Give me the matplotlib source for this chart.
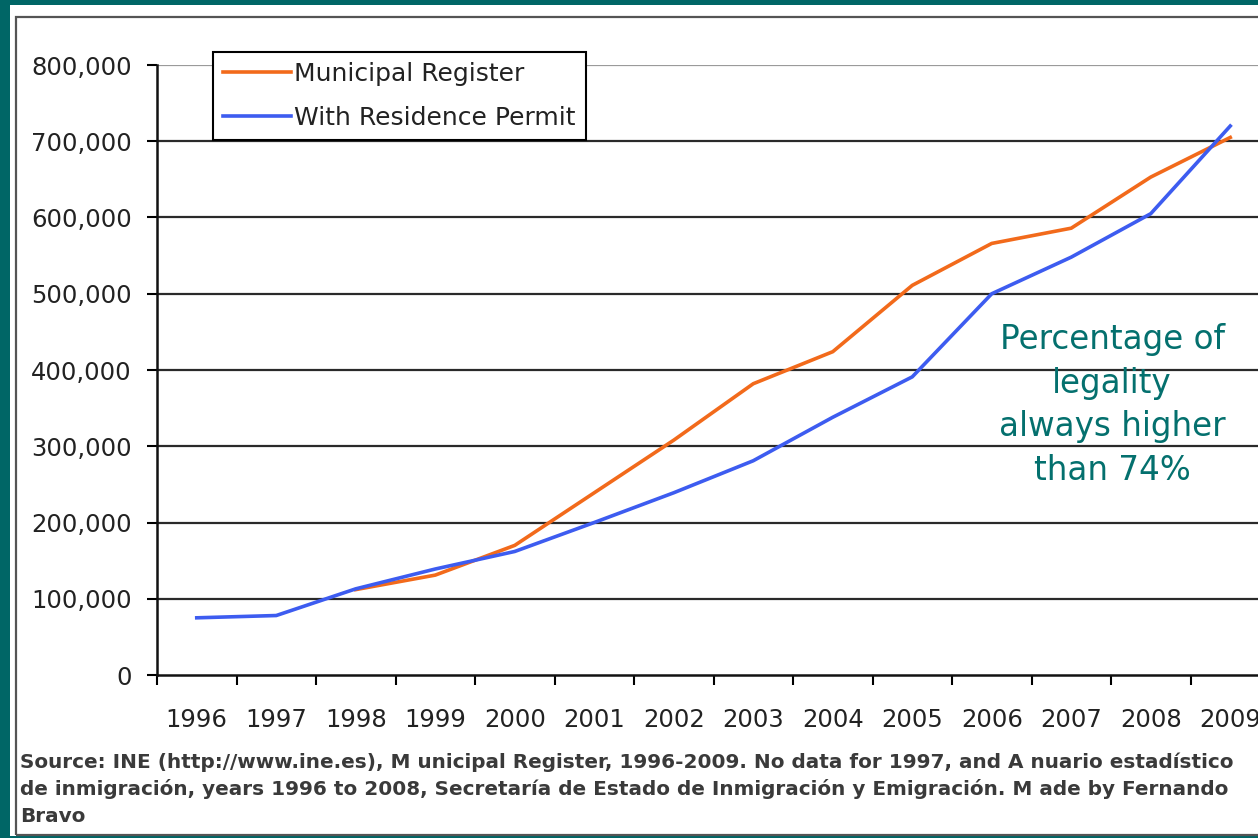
import numpy as np
import matplotlib
matplotlib.use('Agg')
from matplotlib import pyplot as plt
from matplotlib.patches import Rectangle
from matplotlib.ticker import FuncFormatter

# Data (no municipal data before 1998 shown).
years = ['1996', '1997', '1998', '1999', '2000', '2001', '2002',
         '2003', '2004', '2005', '2006', '2007', '2008', '2009']
municipal_register = [np.nan, np.nan, 112000, 131000, 170000, 239000, 308000,
                      382000, 424000, 511000, 566000, 586000, 653000, 705000]
residence_permit = [75000, 78000, 113000, 139000, 162000, 200000, 239000,
                    281000, 338000, 391000, 500000, 548000, 605000, 720000]
y_ticks = [0, 100000, 200000, 300000, 400000, 500000, 600000, 700000, 800000]

source_lines = [
    "Source: INE (http://www.ine.es), M unicipal Register, 1996-2009. No data for 1997, and A nuario estadístico",
    "de inmigración, years 1996 to 2008, Secretaría de Estado de Inmigración y Emigración. M ade by Fernando",
    "Bravo",
]
note = "Percentage of\nlegality\nalways higher\nthan 74%"

W, H = 1258, 838
TEAL = '#006666'
ORANGE = '#F26A1B'
BLUE = '#3D5CF0'


def fx(px):
    return px / W


def fy(py):
    return 1 - py / H


def main():
    fig = plt.figure(figsize=(W / 100, H / 100), dpi=100, facecolor=TEAL)

    # white slide panel with thin grey frame
    fig.add_artist(Rectangle((fx(10), fy(836)), 1.1, (836 - 5) / H,
                             transform=fig.transFigure, facecolor='white',
                             edgecolor='none', zorder=0))
    fig.add_artist(Rectangle((fx(16), fy(835)), 1.1, (835 - 17) / H,
                             transform=fig.transFigure, facecolor='none',
                             edgecolor='#555555', lw=1.6, zorder=1))

    ax = fig.add_axes([fx(157), fy(675), (1270 - 157) / W, (675 - 65) / H])
    ax.set_facecolor('none')

    x = np.arange(len(years))
    ax.plot(x, municipal_register, color=ORANGE, lw=2.6, label='Municipal Register', zorder=3)
    ax.plot(x, residence_permit, color=BLUE, lw=2.6, label='With Residence Permit', zorder=4)

    ax.set_xlim(-0.5, len(years) - 0.5)
    ax.set_ylim(y_ticks[0], y_ticks[-1])

    # horizontal gridlines
    for v in y_ticks[1:-1]:
        ax.axhline(v, color='#2a2a2a', lw=1.6, zorder=1)
    ax.axhline(y_ticks[-1], color='#9a9a9a', lw=1.6, zorder=1)

    ax.set_yticks(y_ticks)
    ax.yaxis.set_major_formatter(FuncFormatter(lambda v, p: f'{v:,.0f}'))
    ax.tick_params(axis='y', length=7, width=1.5, pad=11, labelsize=17.5,
                   labelcolor='#222222')

    ax.set_xticks(np.arange(-0.5, len(years), 1))
    ax.set_xticks(x, minor=True)
    ax.set_xticklabels(years, minor=True)
    ax.tick_params(axis='x', which='major', length=7, width=1.5, labelbottom=False)
    ax.tick_params(axis='x', which='minor', length=0, pad=24, labelsize=17.5,
                   labelcolor='#222222')

    for side in ['top', 'right']:
        ax.spines[side].set_visible(False)
    for side in ['left', 'bottom']:
        ax.spines[side].set_linewidth(1.8)
        ax.spines[side].set_color('#111111')

    leg = ax.legend(loc='upper left', bbox_to_anchor=(fx(213), fy(52)),
                    bbox_transform=fig.transFigure, fancybox=False,
                    edgecolor='black', framealpha=1, fontsize=18,
                    handlelength=2.7, handletextpad=0.15, borderpad=0.4,
                    labelspacing=0.8, borderaxespad=0)
    leg.get_frame().set_linewidth(1.5)
    leg.set_zorder(6)
    for t in leg.get_texts():
        t.set_color('#222222')

    fig.text(fx(1112), fy(405), note, ha='center', va='center',
             multialignment='center', fontsize=23.5, color='#04706E',
             linespacing=1.42)

    for i, line in enumerate(source_lines):
        fig.text(fx(20), fy(762 + 27 * i), line, ha='left', va='center',
                 fontsize=14.4, fontweight='bold', color='#3a3a3a')

    fig.savefig('out.png', dpi=100, facecolor=fig.get_facecolor())


if __name__ == '__main__':
    main()
